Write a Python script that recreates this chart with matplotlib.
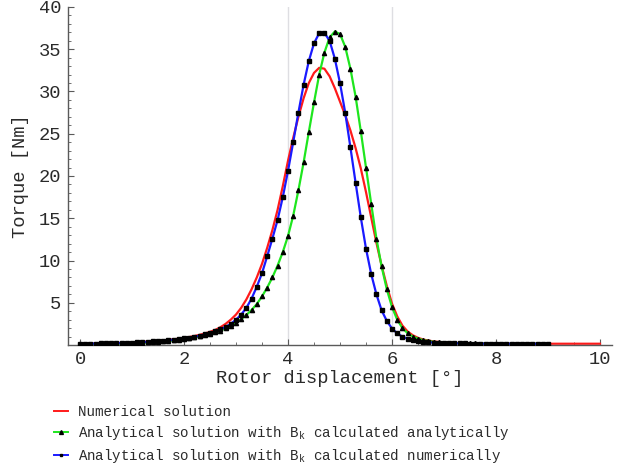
import matplotlib
matplotlib.use("Agg")
import matplotlib.pyplot as plt
from matplotlib.ticker import MultipleLocator, FixedLocator
from matplotlib.lines import Line2D
import numpy as np

plt.rcParams['font.family'] = ['Liberation Mono', 'DejaVu Sans Mono']
plt.rcParams['mathtext.fontset'] = 'custom'
plt.rcParams['mathtext.rm'] = 'Liberation Mono'
plt.rcParams['mathtext.it'] = 'Liberation Mono'

# Rotor displacement samples [deg]
x_num = [round(0.1 * i, 1) for i in range(101)]   # 0 .. 10
x_ana = [round(0.1 * i, 1) for i in range(91)]    # 0 .. 9

# Numerical solution (red)
torque_numerical = [
    0.15, 0.15, 0.16, 0.17, 0.18, 0.19, 0.21, 0.23, 0.25, 0.27,
    0.30, 0.33, 0.36, 0.40, 0.44, 0.49, 0.54, 0.60, 0.67, 0.75,
    0.84, 0.94, 1.06, 1.20, 1.36, 1.55, 1.78, 2.10, 2.50, 3.00,
    3.60, 4.40, 5.40, 6.60, 8.00, 9.60, 11.5, 13.6, 16.0, 18.8,
    21.8, 24.5, 27.0, 29.2, 31.0, 32.2, 32.8, 32.7, 31.8, 30.4,
    28.8, 27.2, 25.4, 23.3, 20.9, 18.1, 15.1, 12.1, 9.4, 7.0,
    4.9, 3.4, 2.3, 1.6, 1.15, 0.85, 0.65, 0.52, 0.43, 0.36,
    0.31, 0.28, 0.25, 0.23, 0.21, 0.20, 0.19, 0.18, 0.17, 0.17,
    0.16, 0.16, 0.16, 0.16, 0.15, 0.15, 0.15, 0.15, 0.15, 0.15,
    0.15, 0.15, 0.15, 0.15, 0.15, 0.15, 0.15, 0.15, 0.15, 0.15,
    0.15,
]

# Analytical solution, B_k calculated analytically (green, triangles)
torque_ana_ana = [
    0.12, 0.12, 0.13, 0.13, 0.14, 0.15, 0.16, 0.17, 0.18, 0.20,
    0.22, 0.24, 0.27, 0.30, 0.33, 0.37, 0.42, 0.48, 0.55, 0.63,
    0.72, 0.80, 0.90, 1.02, 1.15, 1.30, 1.48, 1.70, 1.98, 2.30,
    2.65, 3.05, 3.55, 4.15, 4.85, 5.75, 6.80, 8.00, 9.40, 11.0,
    12.9, 15.3, 18.3, 21.6, 25.2, 28.7, 32.0, 34.6, 36.4, 37.1,
    36.8, 35.3, 32.7, 29.4, 25.3, 21.0, 16.7, 12.6, 9.3, 6.6,
    4.5, 3.0, 2.0, 1.4, 1.0, 0.75, 0.58, 0.47, 0.38, 0.32,
    0.28, 0.25, 0.23, 0.21, 0.20, 0.19, 0.18, 0.17, 0.17, 0.16,
    0.16, 0.16, 0.15, 0.15, 0.15, 0.15, 0.15, 0.15, 0.15, 0.15,
    0.15,
]

# Analytical solution, B_k calculated numerically (blue, squares)
torque_ana_num = [
    0.15, 0.15, 0.16, 0.17, 0.18, 0.19, 0.20, 0.22, 0.24, 0.26,
    0.28, 0.31, 0.34, 0.38, 0.42, 0.46, 0.51, 0.57, 0.63, 0.70,
    0.78, 0.87, 0.97, 1.10, 1.25, 1.40, 1.60, 1.85, 2.15, 2.50,
    3.00, 3.60, 4.40, 5.50, 6.90, 8.50, 10.5, 12.6, 14.8, 17.5,
    20.6, 24.0, 27.5, 30.8, 33.6, 35.7, 36.9, 36.95, 36.0, 33.9,
    31.0, 27.5, 23.4, 19.2, 15.1, 11.4, 8.4, 6.0, 4.1, 2.85,
    1.95, 1.38, 0.98, 0.75, 0.58, 0.46, 0.38, 0.32, 0.28, 0.25,
    0.23, 0.21, 0.20, 0.19, 0.18, 0.17, 0.17, 0.16, 0.16, 0.16,
    0.15, 0.15, 0.15, 0.15, 0.15, 0.15, 0.15, 0.15, 0.15, 0.15,
    0.15,
]

x_ticks = [0, 2, 4, 6, 8, 10]
y_ticks = [5, 10, 15, 20, 25, 30, 35, 40]
grid_x = [4, 6]
labels = ["Numerical solution",
          "Analytical solution with B$_\\mathrm{k}$ calculated analytically",
          "Analytical solution with B$_\\mathrm{k}$ calculated numerically"]

RED = '#ff1a1a'
GREEN = '#1ee61e'
BLUE = '#1a1aff'
TEXT = '#2a2a2a'

fig = plt.figure(figsize=(6.42, 4.67), dpi=100)
ax = fig.add_axes([68 / 642, 1 - 345 / 467, (612 - 68) / 642, (345 - 7) / 467])

for gx in grid_x:
    ax.axvline(gx, color='#dedee2', lw=1.0, zorder=0)

ax.plot(x_num, torque_numerical, color=RED, lw=1.6, zorder=2)
ax.plot(x_ana, torque_ana_ana, color=GREEN, lw=1.6, zorder=3,
        marker='^', ms=3.0, mfc='black', mec='black')
ax.plot(x_ana, torque_ana_num, color=BLUE, lw=1.6, zorder=4,
        marker='s', ms=2.2, mfc='black', mec='black')

ax.set_xlim(-12 / 52, 10 + 12 / 52)
ax.set_ylim(0, 40)
ax.xaxis.set_major_locator(FixedLocator(x_ticks))
ax.xaxis.set_minor_locator(MultipleLocator(0.5))
ax.yaxis.set_major_locator(FixedLocator(y_ticks))
ax.yaxis.set_minor_locator(MultipleLocator(1))

for s in ['top', 'right']:
    ax.spines[s].set_visible(False)
for s in ['left', 'bottom']:
    ax.spines[s].set_color('#5a5a5a')
    ax.spines[s].set_linewidth(1.0)

ax.tick_params(which='both', direction='in', colors='#5a5a5a', labelcolor=TEXT,
               labelsize=13.5)
ax.tick_params(which='major', length=4, width=0.8)
ax.tick_params(which='minor', length=2, width=0.6)
ax.tick_params(axis='x', pad=4)
ax.tick_params(axis='y', pad=5)

ax.set_xlabel("Rotor displacement [°]", fontsize=13.5, color=TEXT, labelpad=2)
ax.set_ylabel("Torque [Nm]", fontsize=13.5, color=TEXT, labelpad=7)

handles = [
    Line2D([], [], color=RED, lw=1.4),
    Line2D([], [], color=GREEN, lw=1.4, marker='^', ms=2.8, mfc='black', mec='black'),
    Line2D([], [], color=BLUE, lw=1.4, marker='s', ms=2.0, mfc='black', mec='black'),
]
fig.legend(handles, labels, loc='upper left', bbox_to_anchor=(48 / 642, 1 - 399 / 467),
           frameon=False, fontsize=10.15, handlelength=1.0, handletextpad=0.7,
           labelspacing=0.36, borderaxespad=0, labelcolor=TEXT)

fig.savefig("out.png", dpi=100)
